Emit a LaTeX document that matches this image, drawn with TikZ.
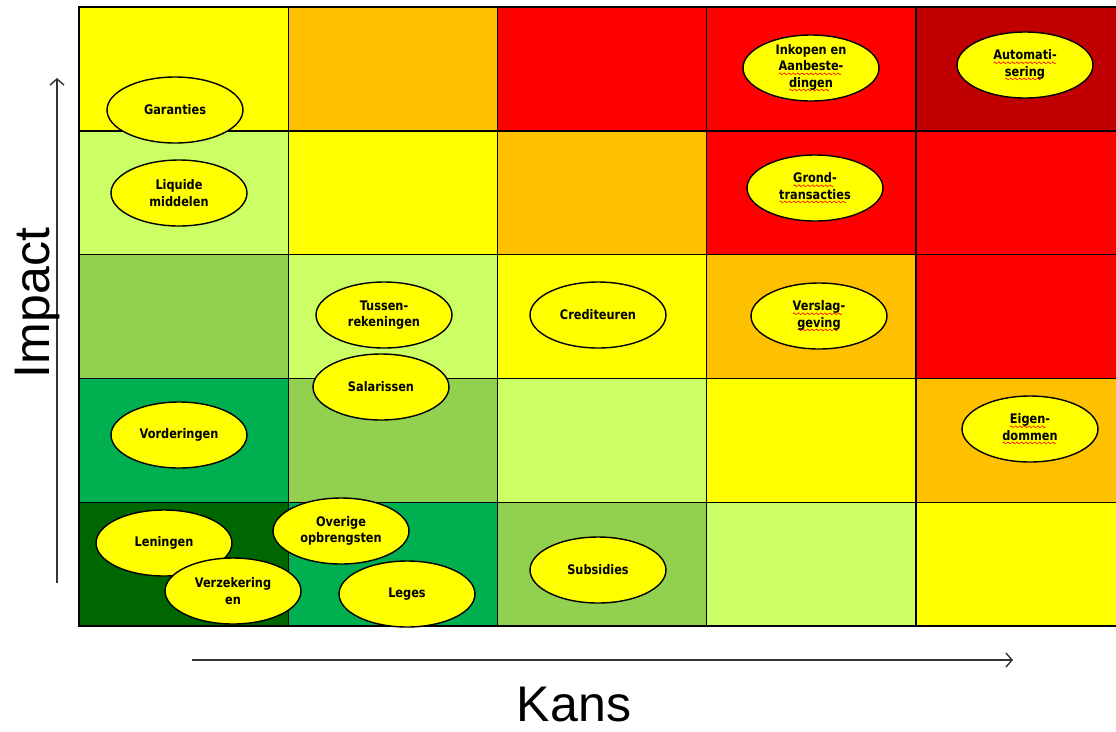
\documentclass[tikz,border=0pt]{standalone}
\usepackage{fontspec}
\setmainfont{Liberation Sans}
\newfontfamily\riskfont[FakeStretch=0.86]{DejaVu Sans}
\usetikzlibrary{shapes.geometric,arrows.meta}

\definecolor{rgeel}{HTML}{FFFF00}
\definecolor{roranje}{HTML}{FFC000}
\definecolor{rrood}{HTML}{FF0000}
\definecolor{rdonkerrood}{HTML}{C00000}
\definecolor{rlichtgroen}{HTML}{CCFF66}
\definecolor{rgroen}{HTML}{92D050}
\definecolor{rmiddengroen}{HTML}{00B050}
\definecolor{rdonkergroen}{HTML}{006600}

% rode kronkellijn onder een woord (spellingcontrole)
\newsavebox\wavebox
\newsavebox\spellbox
\AtBeginDocument{\sbox\wavebox{\pgfpicture
  \pgfsetstrokecolor{red}\pgfsetlinewidth{0.35pt}
  \pgfpathmoveto{\pgfpoint{0pt}{0pt}}
  \pgfpathsine{\pgfpoint{0.55pt}{0.5pt}}\pgfpathcosine{\pgfpoint{0.55pt}{-0.5pt}}
  \pgfpathsine{\pgfpoint{0.55pt}{-0.5pt}}\pgfpathcosine{\pgfpoint{0.55pt}{0.5pt}}
  \pgfusepath{stroke}\endpgfpicture}}
\newcommand\spelling[1]{\sbox\spellbox{#1}%
  \rlap{\lower2.3pt\hbox to\wd\spellbox{\leaders\copy\wavebox\hfill}}\usebox\spellbox}

\begin{document}
\begin{tikzpicture}[x=0.02cm, y=-0.02cm,
  risk/.style={ellipse, draw, line width=0.8pt, fill=rgeel,
    minimum width=2.72cm, minimum height=1.32cm, inner sep=0pt,
    align=center, font=\riskfont\bfseries\fontsize{7.5}{9.2}\selectfont},
  cell/.style={draw, line width=0.8pt},
  axis/.style={draw=black!80, line width=0.8pt, -{Straight Barb[length=3.5pt,width=8pt]}},
  axislabel/.style={inner sep=0pt, anchor=base, font=\fontsize{28.5}{34}\selectfont}]

  \useasboundingbox (0,0) rectangle (1116,731);
  \clip (0,0) rectangle (1116,731);
  \def\W{209.25}
  \def\H{123.8}

  % kleuren per rij, van boven (hoge impact) naar beneden
  \foreach \rij [count=\r from 0] in {
      {rgeel,roranje,rrood,rrood,rdonkerrood},
      {rlichtgroen,rgeel,roranje,rrood,rrood},
      {rgroen,rlichtgroen,rgeel,roranje,rrood},
      {rmiddengroen,rgroen,rlichtgroen,rgeel,roranje},
      {rdonkergroen,rmiddengroen,rgroen,rlichtgroen,rgeel}}
    \foreach \kleur [count=\k from 0] in \rij
      \filldraw[cell, fill=\kleur] (79+\k*\W, 7+\r*\H) rectangle ++(\W,\H);

  \node[risk] (garanties) at (175,110) {Garanties};
  \node[risk] (liquide) at (179,193) {Liquide\\middelen};
  \node[risk] (tussen) at (384,315) {Tussen-\\rekeningen};
  \node[risk] (salarissen) at (381,387) {Salarissen};
  \node[risk] (crediteuren) at (598,315) {Crediteuren};
  \node[risk] (inkopen) at (811,68) {Inkopen en\\\spelling{Aanbeste-}\\\spelling{dingen}};
  \node[risk] (automatisering) at (1025,65) {\spelling{Automati-}\\\spelling{sering}};
  \node[risk] (grond) at (815,188) {\spelling{Grond-}\\\spelling{transacties}};
  \node[risk] (verslag) at (819,316) {\spelling{Verslag-}\\\spelling{geving}};
  \node[risk] (eigendommen) at (1030,429) {\spelling{Eigen-}\\\spelling{dommen}};
  \node[risk] (vorderingen) at (179,435) {Vorderingen};
  \node[risk] (leningen) at (164,543) {Leningen};
  \node[risk] (verzekering) at (233,591) {Verzekering\\en};
  \node[risk] (overige) at (341,531) {Overige\\opbrengsten};
  \node[risk] (leges) at (407,594) {Leges};
  \node[risk] (subsidies) at (598,570) {Subsidies};

  % assen
  \coordinate (impactvan) at (57,583);
  \coordinate (impacttot) at (57,78);
  \coordinate (kansvan) at (192,660);
  \coordinate (kanstot) at (1013,660);
  \draw[axis] (impactvan) -- (impacttot);
  \draw[axis] (kansvan) -- (kanstot);

  \node[axislabel, rotate=90] (impact) at (50,303) {Impact};
  \node[axislabel] (kans) at (574,721) {Kans};
\end{tikzpicture}
\end{document}
